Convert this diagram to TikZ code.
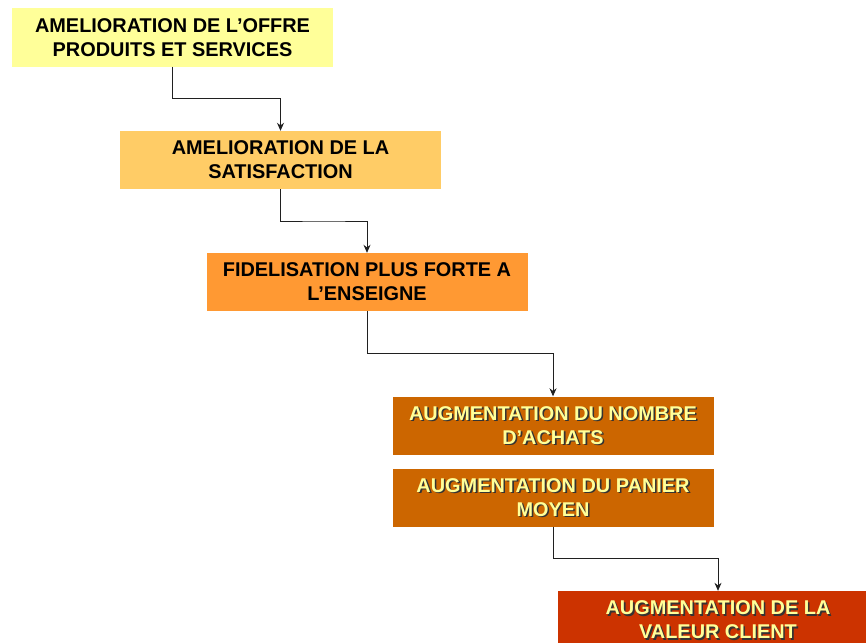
\documentclass[tikz,border=0pt]{standalone}
\usepackage{fontspec}
\setmainfont{Liberation Sans}
\usetikzlibrary{calc,arrows.meta}

\definecolor{paleyellow}{HTML}{FFFF99}
\definecolor{lightorange}{HTML}{FFCC66}
\definecolor{midorange}{HTML}{FF9933}
\definecolor{darkorange}{HTML}{CC6600}
\definecolor{redorange}{HTML}{CC3300}
\definecolor{linegray}{HTML}{202020}

\begin{document}
\begin{tikzpicture}[x=1pt, y=-1pt,
  stepbox/.style={minimum width=321pt, minimum height=58pt, inner sep=0pt,
    align=center, font=\fontsize{19.9}{24}\selectfont\bfseries},
  shadowtxt/.style={align=center, inner sep=0pt, text=black!80,
    font=\fontsize{19.9}{24}\selectfont\bfseries},
  lighttxt/.style={text=paleyellow},
  link/.style={draw=linegray, line width=0.8pt, -{Stealth[length=8pt,width=7pt]}}]
  \clip (0,0) rectangle (866,642);

  % Light boxes, black text
  \node[stepbox, fill=paleyellow] (offre) at (172.5,37.5)
    {AMELIORATION DE L’OFFRE\\PRODUITS ET SERVICES};
  \node[stepbox, fill=lightorange] (satis) at (280.5,160)
    {AMELIORATION DE LA\\SATISFACTION};
  \node[stepbox, fill=midorange] (fidel) at (367,282)
    {FIDELISATION PLUS FORTE A\\L’ENSEIGNE};

  % Dark boxes, yellow text with a dark shadow
  \node[stepbox, fill=darkorange] (achats) at (553,425.5) {};
  \node[shadowtxt] (achatsS) at ($(achats)+(1.6,1.6)$)
    {AUGMENTATION DU NOMBRE\\D’ACHATS};
  \node[shadowtxt, lighttxt] (achatsT) at (achats)
    {AUGMENTATION DU NOMBRE\\D’ACHATS};

  \node[stepbox, fill=darkorange] (panier) at (553,497.5) {};
  \node[shadowtxt] (panierS) at ($(panier)+(1.6,1.6)$)
    {AUGMENTATION DU PANIER\\MOYEN};
  \node[shadowtxt, lighttxt] (panierT) at (panier)
    {AUGMENTATION DU PANIER\\MOYEN};

  \node[stepbox, fill=redorange] (valeur) at (718,620) {};
  \node[shadowtxt] (valeurS) at ($(valeur)+(1.6,1.6)$)
    {AUGMENTATION DE LA\\VALEUR CLIENT};
  \node[shadowtxt, lighttxt] (valeurT) at (valeur)
    {AUGMENTATION DE LA\\VALEUR CLIENT};

  % Elbow connectors
  \draw[link] (offre.south) |- ($(offre.south)!.5!(satis.north)$) -| (satis.north);
  \draw[link] (satis.south) |- ($(satis.south)!.5!(fidel.north)$) -| (fidel.north);
  \draw[link] (fidel.south) |- ($(fidel.south)!.5!(achats.north)$) -| (achats.north);
  \draw[link] (panier.south) |- ($(panier.south)!.5!(valeur.north)$) -| (valeur.north);
\end{tikzpicture}
\end{document}
